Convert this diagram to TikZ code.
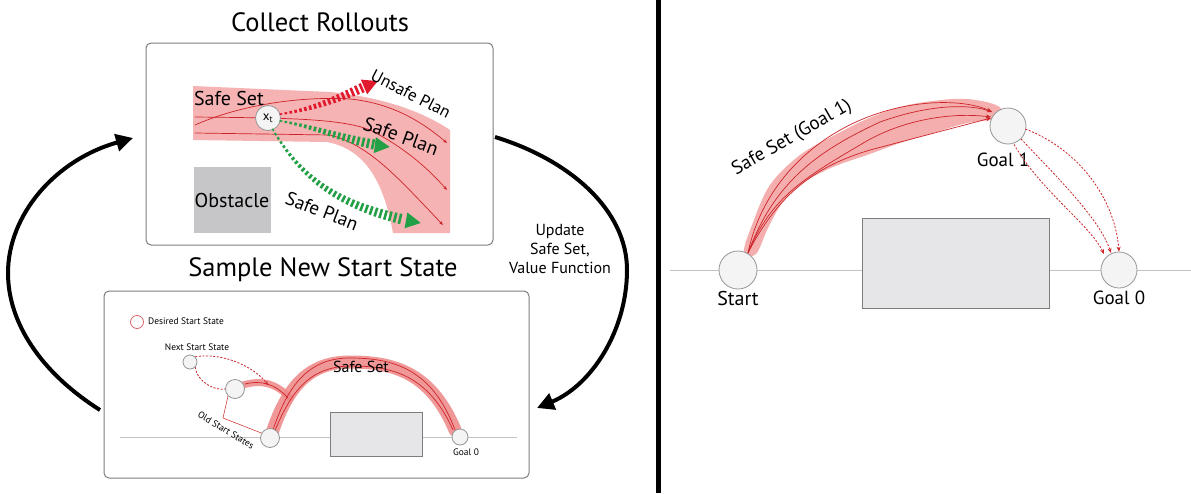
\documentclass[tikz,border=0pt]{standalone}
\usepackage{fontspec}
\setmainfont{PT Sans}
\usetikzlibrary{arrows.meta,decorations.markings}
\definecolor{pinkset}{RGB}{243,160,160}
\definecolor{pinkdeep}{RGB}{238,135,135}
\definecolor{setred}{RGB}{205,35,40}
\definecolor{unsafered}{RGB}{225,25,45}
\definecolor{safegreen}{RGB}{35,160,70}
\definecolor{boxgray}{RGB}{125,125,125}
\definecolor{obsgray}{RGB}{198,198,200}
\definecolor{obslight}{RGB}{230,230,232}
\definecolor{statefill}{RGB}{244,244,244}
\definecolor{stateline}{RGB}{150,150,150}
\definecolor{groundgray}{RGB}{195,195,195}
\tikzset{
  panelbox/.style={draw=boxgray, line width=1pt, rounded corners=5pt, fill=white},
  titletext/.style={font=\fontsize{26.5}{30}\selectfont},
  lab/.style={font=\fontsize{20}{24}\selectfont, inner sep=0pt},
  smalllab/.style={font=\fontsize{9.4}{11}\selectfont, inner sep=0pt},
  state/.style={circle, draw=stateline, fill=statefill, line width=0.8pt, inner sep=0pt},
  band/.style={draw=pinkdeep, line cap=round, line join=round, opacity=0.85},
  thinred/.style={draw=setred, line width=0.7pt},
  dashred/.style={draw=setred, line width=0.8pt, dash pattern=on 2pt off 1.6pt},
  ground/.style={draw=groundgray, line width=1pt},
  obstacle/.style={draw=boxgray, line width=0.8pt, fill=obslight},
  bigarrow/.style={line width=4pt, -{Triangle[length=17pt,width=17pt]}},
  taper/.style 2 args={postaction={decorate}, decoration={markings,
    mark=between positions 0 and 0.9 step 5pt with {%
      \pgfmathsetmacro\tw{0.8+#2*\pgfkeysvalueof{/pgf/decoration/mark info/distance from start}/\pgfdecoratedpathlength}%
      \fill[#1] (-1.3pt,-\tw pt) rectangle (1.3pt,\tw pt);},
    mark=at position 0.998 with {\fill[#1] (0pt,0pt) -- (-15pt,8pt) -- (-15pt,-8pt) -- cycle;}}}
}
\begin{document}
\begin{tikzpicture}[x=1pt,y=-1pt]
\fill[white] (0,0) rectangle (1191,493);
\useasboundingbox (0,0) rectangle (1191,493);

% divider
\draw[line width=5pt] (658,0) -- (658,493);

% ---------- top panel ----------
\node[titletext] (t1) at (320,22) {Collect Rollouts};
\draw[panelbox] (146,43) rectangle (493,245);
\fill[pinkset!80!white] (193,86) -- (330,92) .. controls (380,97) and (420,110) .. (450,130)
   -- (450,233) -- (393,233) .. controls (385,190) and (370,150) .. (327,142) -- (193,140) -- cycle;
\draw[thinred, -{Stealth[length=4pt,width=3pt]}] (195,125) .. controls (240,105) and (300,96) .. (350,99) .. controls (390,103) and (420,120) .. (447,143);
\draw[thinred, -{Stealth[length=4pt,width=3pt]}] (195,117) .. controls (280,118) and (340,118) .. (370,130) .. controls (400,145) and (425,165) .. (447,190);
\draw[thinred, -{Stealth[length=4pt,width=3pt]}] (195,133) -- (330,135) .. controls (370,145) and (400,180) .. (443,225);
\node[lab, anchor=center] (ss1) at (229,98) {Safe Set};
\node[obstacle, draw=none, fill=obsgray, minimum width=77pt, minimum height=66pt] (obs1) at (232,200) {};
\node[lab] at (obs1.center) {Obstacle};
\node[state, minimum size=25pt] (xt) at (268,118) {\fontsize{13}{13}\selectfont x\textsubscript{t}};
\coordinate (ua) at (378,81);
\coordinate (sa1) at (390,147);
\coordinate (sa2) at (421,223);
\path[taper={unsafered}{5}] (xt.east) ++(0,-4) .. controls (320,108) and (345,95) .. (ua);
\path[taper={safegreen}{5}] (xt.east) ++(0,3) .. controls (320,128) and (350,142) .. (sa1);
\path[taper={safegreen}{5}] (xt.south) ++(5,-1) .. controls (300,175) and (335,208) .. (sa2);
\node[font=\fontsize{17}{20}\selectfont, rotate=-27, inner sep=0pt] (up) at (411,94) {Unsafe Plan};
\node[font=\fontsize{19.5}{22}\selectfont, rotate=-20, inner sep=0pt] (sp1) at (401,136) {Safe Plan};
\node[font=\fontsize{19}{22}\selectfont, rotate=-21, inner sep=0pt] (sp2) at (322,211) {Safe Plan};

% ---------- bottom panel ----------
\node[titletext] (t2) at (323,270) {Sample New Start State};
\draw[panelbox] (104,291) rectangle (529,478);
\draw[ground] (120,437) -- (517,437);
\node[obstacle, minimum width=92pt, minimum height=44pt] (obs2) at (376,434) {};
\node[circle, draw=setred!70, line width=0.8pt, minimum size=13pt, inner sep=0pt] (leg) at (137,322) {};
\node[smalllab, anchor=west] at (148,321) {Desired Start State};
\draw[band, line width=13pt] (272,433) .. controls (288,385) and (310,362) .. (350,362) .. controls (390,362) and (430,370) .. (455,430);
\draw[band, line width=7pt] (243,385) .. controls (260,380) and (275,382) .. (290,398);
\draw[thinred] (272,433) .. controls (288,383) and (310,358) .. (350,358) .. controls (392,358) and (432,368) .. (455,430);
\draw[thinred] (274,433) .. controls (292,388) and (312,366) .. (352,366) .. controls (390,366) and (428,374) .. (453,430);
\draw[thinred] (245,384) .. controls (262,380) and (275,384) .. (288,398);
\node[state, minimum size=14pt] (next) at (190,362) {};
\node[state, minimum size=19pt] (old1) at (235,389) {};
\node[state, minimum size=19pt] (old2) at (270,438) {};
\node[state, minimum size=16pt] (g0b) at (460,437) {};
\node[smalllab] at (197,347) {Next Start State};
\node[smalllab] at (466,452) {Goal 0};
\node[font=\fontsize{16}{18}\selectfont, inner sep=0pt] (ss2) at (361,367) {Safe Set};
\coordinate (oa) at (268,385);
\draw[dashred, -{Stealth[length=4pt,width=3.5pt]}] (next.north east) .. controls (225,352) and (255,368) .. (oa);
\draw[dashred] (next.south east) .. controls (197,382) and (215,391) .. (old1.west);
\coordinate (ok) at (223,418);
\draw[thinred, line width=0.5pt] (old1.south west) -- (ok) -- (old2.150);
\node[smalllab, rotate=-31] at (226,430) {Old Start States};

% ---------- loop arrows ----------
\coordinate (la0) at (100,410);
\coordinate (la1) at (133,138);
\coordinate (ra0) at (495,137);
\coordinate (ra1) at (537,408);
\draw[bigarrow] (la0) .. controls (40,372) and (8,322) .. (8,273) .. controls (8,215) and (55,160) .. (la1);
\draw[bigarrow] (ra0) .. controls (570,160) and (627,210) .. (627,270) .. controls (627,330) and (592,385) .. (ra1);
\node[align=center, font=\fontsize{16}{19}\selectfont] (upd) at (560,249) {Update\\Safe Set,\\Value Function};

% ---------- right panel ----------
\draw[ground] (670,270) -- (1191,270);
\node[obstacle, minimum width=187pt, minimum height=90pt] (obs3) at (955.5,263) {};
\fill[pinkset, opacity=0.85] plot[smooth cycle, tension=0.6] coordinates {
  (744,252) (752,225) (770,185) (800,155) (833,136) (867,119) (900,107) (933,101) (967,99) (998,106)
  (1000,118) (967,123) (933,133) (900,143) (867,155) (833,167) (803,183) (783,202) (768,228) (756,254)};
\node[state, minimum size=38pt] (start) at (738,270) {};
\node[state, minimum size=36pt] (g1) at (1008,126) {};
\node[state, minimum size=36pt] (g0) at (1119,270) {};
\coordinate (s0) at (748,253);
\draw[thinred, -{Stealth[length=5pt,width=4pt]}] (s0) .. controls (765,170) and (840,110) .. (930,103) .. controls (960,101) and (980,106) .. (992,112);
\draw[thinred, -{Stealth[length=5pt,width=4pt]}] (s0) .. controls (775,180) and (820,150) .. (880,122) .. controls (930,104) and (970,104) .. (992,112);
\draw[thinred, -{Stealth[length=5pt,width=4pt]}] (s0) .. controls (770,200) and (800,180) .. (860,145) .. controls (900,120) and (950,112) .. (991,117);
\draw[thinred, -{Stealth[length=5pt,width=4pt]}] (s0) .. controls (780,190) and (820,165) .. (870,150) -- (991,118);
\node[lab] at (738,298) {Start};
\node[lab, font=\fontsize{19}{22}\selectfont] at (1119,298) {Goal 0};
\node[lab, font=\fontsize{19}{22}\selectfont] at (1003,160) {Goal 1};
\node[lab, font=\fontsize{19}{22}\selectfont, rotate=30] (ssg) at (792,138) {Safe Set (Goal 1)};
\draw[dashred, -{Stealth[length=5pt,width=4pt]}] (g1.east) ++(-1,3) .. controls (1080,150) and (1115,200) .. (g0.north) ;
\draw[dashred, -{Stealth[length=5pt,width=4pt]}] (g1.south east) .. controls (1060,180) and (1100,220) .. (1111,253);
\draw[dashred, -{Stealth[length=5pt,width=4pt]}] (g1.south) ++(6,0) .. controls (1040,190) and (1090,225) .. (1104,254);
\end{tikzpicture}
\end{document}
